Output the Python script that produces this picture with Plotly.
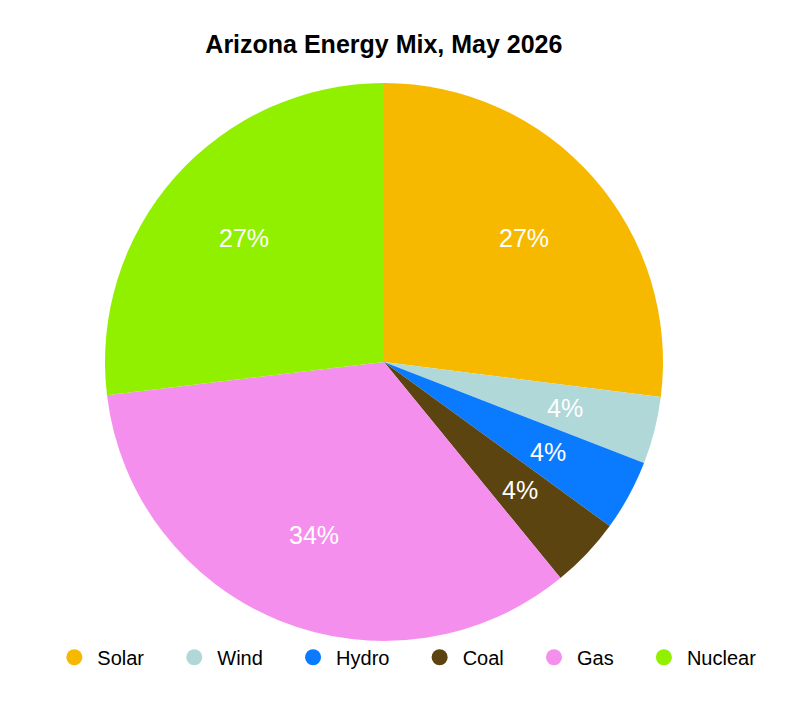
import math
import plotly.graph_objects as go

# Arizona energy mix, May 2026 (share of generation, %)
sources = ["Solar", "Wind", "Hydro", "Coal", "Gas", "Nuclear"]
shares = [27.0, 3.9, 4.1, 4.1, 34.0, 26.9]
colors = ["#F7B900", "#B0D8D8", "#0A7BFF", "#5C4410", "#F58FEE", "#91F000"]

W, H = 788, 708
# pie geometry in pixels (page has an 8px body margin)
cx_px, cy_px, rad_px = 376, 354, 279
dom_x = [(cx_px - rad_px) / W, (cx_px + rad_px) / W]
dom_y = [1 - (cy_px + rad_px) / H, 1 - (cy_px - rad_px) / H]

fig = go.Figure()

fig.add_trace(go.Pie(
    labels=sources,
    values=shares,
    sort=False,
    direction="clockwise",
    rotation=0,
    marker=dict(colors=colors, line=dict(width=0)),
    textinfo="none",
    hoverinfo="label+percent",
    showlegend=False,
    domain=dict(x=dom_x, y=dom_y),
))

# percentage labels placed at mid-angle of each slice, 2/3 of the radius out
total = sum(shares)
cum = 0
for s in shares:
    mid = (cum + s / 2) / total * 2 * math.pi
    cum += s
    fig.add_annotation(
        x=cx_px / W + 0.67 * rad_px * math.sin(mid) / W,
        y=1 - cy_px / H + 0.67 * rad_px * math.cos(mid) / H,
        xref="paper", yref="paper", showarrow=False,
        xanchor="center", yanchor="middle",
        text="%d%%" % round(s / total * 100),
        font=dict(family="Liberation Sans, Arial", size=25, color="white"),
    )

# circle markers for the legend
pad = "\u00a0" * 4
for i, (name, col) in enumerate(zip(sources, colors)):
    fig.add_trace(go.Scatter(
        x=[None], y=[None], mode="markers",
        name=name + (pad if i < len(sources) - 1 else ""),
        marker=dict(symbol="circle", size=19, color=col),
    ))

fig.update_layout(
    width=W, height=H,
    margin=dict(l=0, r=0, t=0, b=0),
    paper_bgcolor="white",
    plot_bgcolor="white",
    title=dict(
        text="<b>Arizona Energy Mix, May 2026</b>",
        x=0.477, xanchor="center", y=0.949, yanchor="middle",
        font=dict(family="Liberation Sans, Arial", size=25, color="black"),
    ),
    xaxis=dict(visible=False),
    yaxis=dict(visible=False),
    legend=dict(
        orientation="h", x=0.055, xanchor="left", y=0.083, yanchor="middle",
        bgcolor="rgba(0,0,0,0)",
        font=dict(family="Liberation Sans, Arial", size=20, color="black"),
        itemwidth=36,
    ),
)

fig.write_html("out.html")
